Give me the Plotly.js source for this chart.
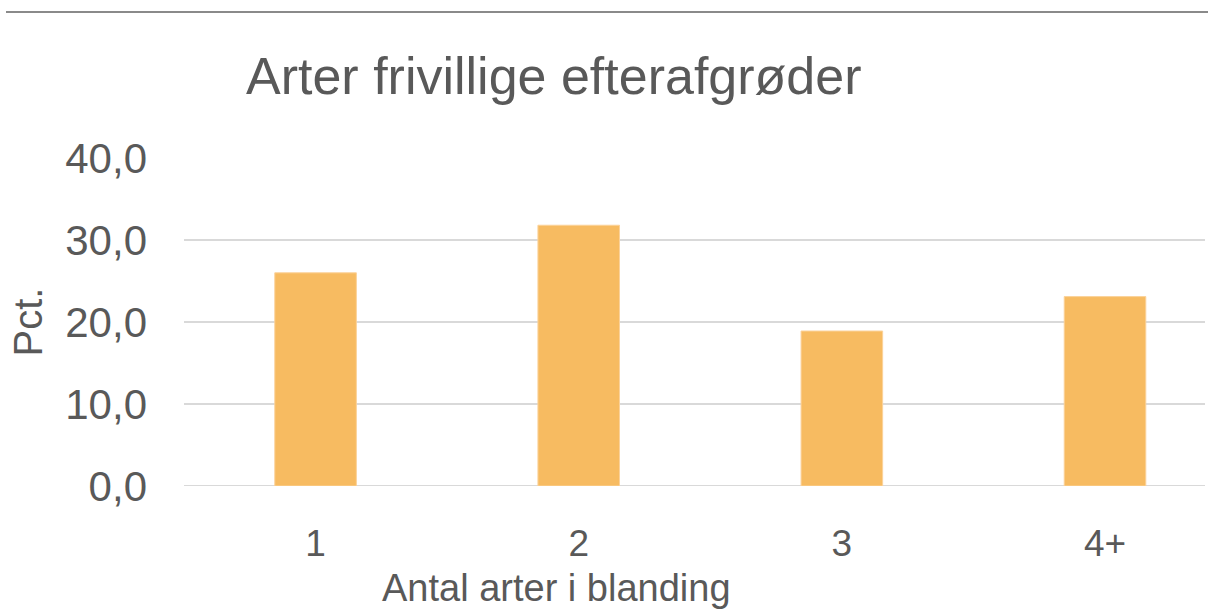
<!DOCTYPE html>
<html>
<head>
<meta charset="utf-8">
<script src="https://cdn.plot.ly/plotly-3.0.1.min.js"></script>
<style>html,body{margin:0;padding:0;overflow:hidden;background:#fff}#chart{width:1208px;height:613px}</style>
</head>
<body>
<div id="chart"></div>
<script>
const categories = ["1", "2", "3", "4+"];
const values = [26.0, 31.8, 18.9, 23.1];
const yTickVals = [0, 10, 20, 30, 40];
const yTickText = ["0,0", "10,0", "20,0", "30,0", "40,0"];
const xTitle = "Antal arter i blanding";
const yTitle = "Pct.";
const chartTitle = "Arter frivillige efterafgrøder";

const W = 1208, H = 613;
const L = 184, R = 3, T = 158, B = 127;
const plotH = H - T - B, plotW = W - L - R;
const font = "'Liberation Sans', Arial, sans-serif";
const grey = "#595959";

const trace = {
  type: "bar",
  x: categories,
  y: values,
  marker: {color: "#F7BB61", line: {color: "#FBD29A", width: 1}},
  hoverinfo: "x+y"
};

const layout = {
  width: W, height: H,
  margin: {l: L, r: R, t: T, b: B, pad: 0},
  paper_bgcolor: "#fff", plot_bgcolor: "#fff",
  showlegend: false,
  bargap: 0.69,
  font: {family: font, color: grey},
  title: {
    text: chartTitle,
    font: {family: font, size: 52, color: grey},
    xref: "container", yref: "container",
    x: 246 / W, xanchor: "left",
    y: 1 - 76 / H, yanchor: "middle"
  },
  xaxis: {
    type: "category",
    range: [-0.5, 3.38],
    showgrid: false, zeroline: false, showline: false,
    ticks: "",
    tickfont: {family: font, size: 37, color: grey},
    ticklabelstandoff: 32
  },
  yaxis: {
    range: [0, 40],
    tickvals: yTickVals,
    ticktext: yTickText,
    showgrid: true, gridcolor: "#D9D9D9", gridwidth: 2,
    zeroline: false, showline: false,
    ticks: "",
    tickfont: {family: font, size: 42, color: grey},
    ticklabelstandoff: 36,
    title: {text: yTitle, font: {family: font, size: 40, color: grey}, standoff: 10}
  },
  annotations: [
    {text: xTitle, xref: "paper", yref: "paper",
     x: (556 - L) / plotW, xanchor: "center",
     y: (H - B - 588) / plotH, yanchor: "middle",
     showarrow: false, font: {family: font, size: 38, color: grey}}
  ],
  shapes: [
    {type: "line", xref: "paper", yref: "paper",
     x0: (6 - L) / plotW, x1: (W - L) / plotW + 0.01,
     y0: (H - B - 12) / plotH, y1: (H - B - 12) / plotH,
     line: {color: "#8A8A8A", width: 2}},
    {type: "line", xref: "paper", yref: "y",
     x0: 0, x1: 1, y0: 0, y1: 0, layer: "below",
     line: {color: "#D9D9D9", width: 2}}
  ]
};

Plotly.newPlot("chart", [trace], layout, {displayModeBar: false, staticPlot: true});
</script>
</body>
</html>
